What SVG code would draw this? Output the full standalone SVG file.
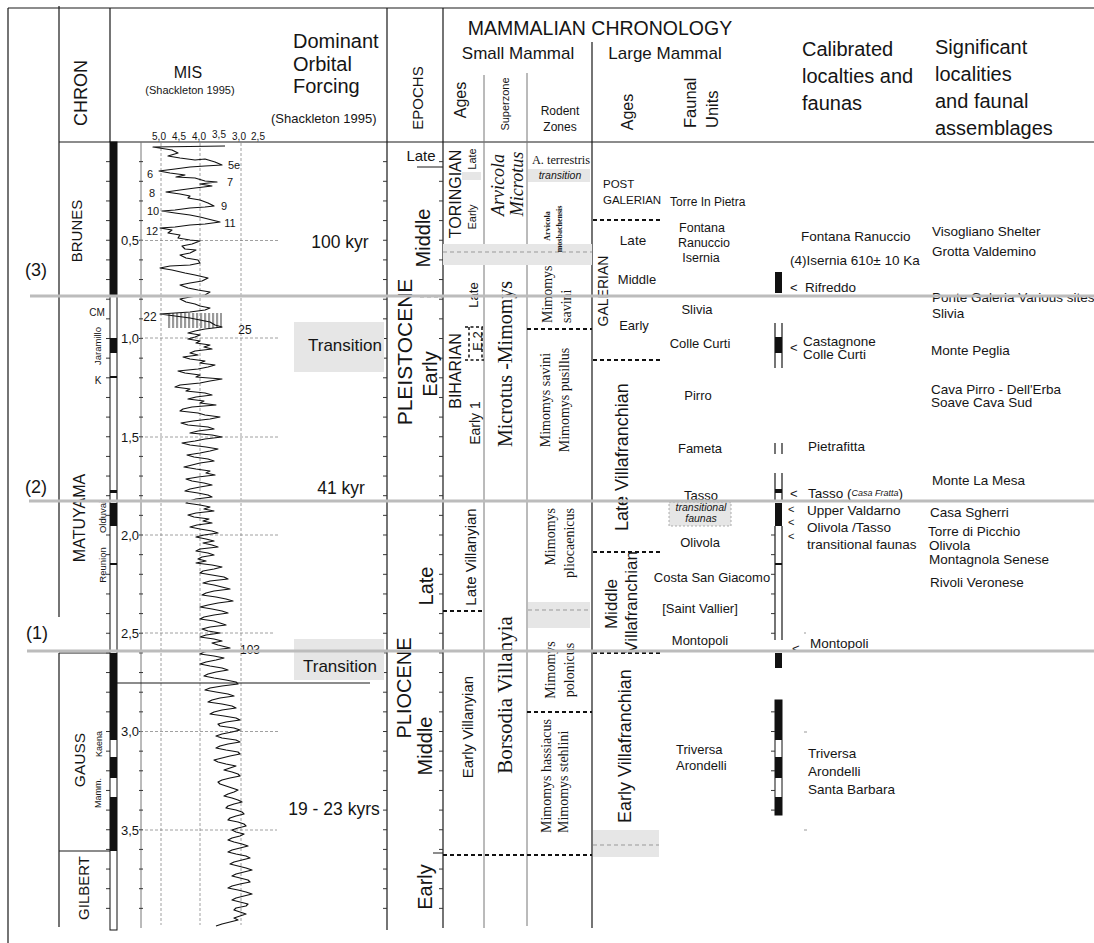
<svg xmlns="http://www.w3.org/2000/svg" width="1094" height="943" viewBox="0 0 1094 943">
<defs>
<style>
.s{font-family:"Liberation Sans",Arial,sans-serif;fill:#151515;dominant-baseline:central}
.r{font-family:"Liberation Serif","Times New Roman",serif;fill:#151515;dominant-baseline:central}
.m{text-anchor:middle}
.e{text-anchor:end}
.i{font-style:italic}
.k{stroke:#1a1a1a;stroke-width:1.2;fill:none}
.gy{stroke:#777;stroke-width:1;fill:none}
.gl{stroke:#bcbcbc;stroke-width:3;fill:none}
.dk{stroke:#111;stroke-width:1.8;stroke-dasharray:4 3;fill:none}
.dg{stroke:#999;stroke-width:1;stroke-dasharray:4 3;fill:none}
.gr{stroke:#888;stroke-width:0.8;stroke-dasharray:3 2;fill:none}
.band{fill:#e6e6e6}
.blk{fill:#111}
</style>
<pattern id="tick" patternUnits="userSpaceOnUse" x="0" y="141.5" width="1" height="19.65"><rect width="1" height="1" fill="#333"/></pattern>
<pattern id="hatch" patternUnits="userSpaceOnUse" x="0" y="0" width="4" height="1"><rect width="2.2" height="1" fill="#9a9a9a"/></pattern>
</defs>
<rect width="1094" height="943" fill="#fff"/>

<g id="frame">
<path class="k" d="M8,8 H1094 M59,142 H1094 M8,8 V943 M59,6 V617 M59,653 V927 M110,8 V142 M387,8 V930 M443,8 V928 M592,42 V928"/>
<path class="gy" d="M484,75 V928 M527,73 V926 M141,142 V928"/>
<path class="k" d="M59,653 H112 M59,851 H117" stroke-width="1.6"/>
<rect x="106" y="150" width="4" height="775" fill="url(#tick)"/>
<rect x="139" y="150" width="4" height="775" fill="url(#tick)"/>
<rect x="383" y="150" width="4" height="775" fill="url(#tick)"/>
<rect x="439" y="150" width="4" height="775" fill="url(#tick)"/>
</g>

<g id="header">
<text class="s m" font-size="18" transform="translate(81,93) rotate(-90)">CHRON</text>
<text class="s m" font-size="16" x="188" y="72">MIS</text>
<text class="s m" font-size="11" x="190" y="90">(Shackleton 1995)</text>
<text class="s" font-size="20" x="293" y="41">Dominant</text>
<text class="s" font-size="20" x="293" y="64">Orbital</text>
<text class="s" font-size="20" x="293" y="86">Forcing</text>
<text class="s" font-size="13" x="271" y="118">(Shackleton 1995)</text>
<g class="s m" font-size="10">
<text x="159" y="136">5,0</text><text x="179" y="136">4,5</text><text x="199" y="136">4,0</text><text x="219" y="134">3,5</text><text x="239" y="136">3,0</text><text x="258" y="136">2,5</text>
</g>
<text class="s m" font-size="15" transform="translate(417,98) rotate(-90)">EPOCHS</text>
<text class="s m" font-size="19.5" x="600" y="28">MAMMALIAN CHRONOLOGY</text>
<text class="s m" font-size="17" x="518" y="53">Small Mammal</text>
<text class="s m" font-size="17" x="665" y="53">Large Mammal</text>
<text class="s m" font-size="16" transform="translate(460,100) rotate(-90)">Ages</text>
<text class="s m" font-size="11" transform="translate(505,104) rotate(-90)">Superzone</text>
<text class="s m" font-size="12" x="560" y="111">Rodent</text>
<text class="s m" font-size="12" x="560" y="127">Zones</text>
<text class="s m" font-size="16" transform="translate(627,112) rotate(-90)">Ages</text>
<text class="s" font-size="16.5" transform="translate(690,128) rotate(-90)">Faunal</text>
<text class="s" font-size="16.5" transform="translate(712,128) rotate(-90)">Units</text>
<text class="s" font-size="20" x="802" y="49">Calibrated</text>
<text class="s" font-size="20" x="802" y="76">localties and</text>
<text class="s" font-size="20" x="802" y="103">faunas</text>
<text class="s" font-size="20" x="935" y="47">Significant</text>
<text class="s" font-size="20" x="935" y="74">localities</text>
<text class="s" font-size="20" x="935" y="101">and faunal</text>
<text class="s" font-size="20" x="935" y="128">assemblages</text>
</g>

<g id="chron">
<rect x="110" y="142" width="7" height="788" fill="#fff" stroke="#111" stroke-width="1"/>
<rect class="blk" x="110" y="142" width="7" height="154"/>
<rect class="blk" x="110" y="338" width="7" height="15"/>
<rect class="blk" x="110" y="376" width="7" height="2"/>
<rect class="blk" x="110" y="490" width="7" height="3"/>
<rect class="blk" x="110" y="503" width="7" height="23"/>
<rect class="blk" x="110" y="563" width="7" height="2"/>
<rect class="blk" x="110" y="653" width="7" height="87"/>
<rect class="blk" x="110" y="757" width="7" height="21"/>
<rect class="blk" x="110" y="797" width="7" height="54"/>
<text class="s m" font-size="15" transform="translate(76,231) rotate(-90)">BRUNES</text>
<text class="s m" font-size="16" transform="translate(79,518) rotate(-90)">MATUYAMA</text>
<text class="s m" font-size="15.5" transform="translate(79,760) rotate(-90)">GAUSS</text>
<text class="s m" font-size="15" transform="translate(83,888) rotate(-90)">GILBERT</text>
<text class="s m" font-size="9" transform="translate(98,793) rotate(-90)">Mamm.</text>
<text class="s m" font-size="9" transform="translate(99,744) rotate(-90)">Kaena</text>
<text class="s m" font-size="9.5" transform="translate(102,517) rotate(-90)">Olduvai</text>
<text class="s m" font-size="9.5" transform="translate(102,565) rotate(-90)">Reunion</text>
<text class="s m" font-size="9.5" transform="translate(97,346) rotate(-90)">Jaramillo</text>
<text class="s m" font-size="10" x="97" y="312">CM</text>
<text class="s m" font-size="10" x="98" y="380">K</text>
<text class="s m" font-size="18" x="36" y="270">(3)</text>
<text class="s m" font-size="18" x="36" y="487">(2)</text>
<text class="s m" font-size="18" x="37" y="633">(1)</text>
</g>

<g id="mis">
<path class="gr" d="M161,143 V925 M200,143 V925 M241,143 V925"/>
<path class="gr" d="M140,240.5 H278 M140,338 H278 M140,437 H278 M140,535 H278 M140,633 H275 M140,731.5 H280 M140,830 H277"/>
<g class="s e" font-size="13">
<text x="139" y="240">0,5</text><text x="139" y="338">1,0</text><text x="139" y="437">1,5</text><text x="139" y="535">2,0</text><text x="139" y="633">2,5</text><text x="139" y="731">3,0</text><text x="139" y="830">3,5</text>
</g>
<rect x="168" y="313" width="54" height="15" fill="url(#hatch)"/>
<path stroke="#111" stroke-width="1.2" fill="none" stroke-linejoin="round" d="M225,146 L153,147 L172,150 L178,153 L168,156 L180,158 L195,160 L205,159 L215,162 L222,165 L205,166 L190,167 L175,169 L159,171 L170,173 L185,175 L176,177 L195,178 L205,181 L217,182 L200,184 L212,186 L195,188 L180,190 L166,192 L180,194 L190,196 L188,198 L200,200 L208,203 L214,206 L205,207 L190,208 L175,210 L162,211 L175,213 L190,215 L200,217 L212,220 L220,222 L205,224 L190,225 L175,227 L160,228 L172,230 L168,233 L180,235 L178,238 L190,240 L200,241 L192,244 L182,246 L185,249 L196,250 L190,253 L180,255 L186,258 L198,260 L200,263 L190,265 L170,266 L160,268 L172,270 L185,273 L195,275 L208,278 L202,281 L190,283 L180,285 L188,288 L198,290 L210,292 L205,295 L190,297 L180,299 L186,302 L195,304 L200,306 L210,308 L205,310 L190,312 L175,313 L160,314 L175,316 L190,318 L200,320 L210,322 L215,325 L222,327 L205,329 L195,331 L188,333 L200,335 L195,337 L188,339 L200,341 L196,343 L210,345 L204,347 L212,349 L195,351 L190,353 L198,355 L183,357 L190,359 L205,361 L200,363 L215,365 L208,367 L198,369 L178,371 L185,373 L200,375 L196,377 L222,379 L210,381 L200,383 L180,385 L175,387 L190,389 L186,391 L205,393 L212,395 L196,397 L188,399 L204,401 L200,403 L216,405 L192,407 L183,409 L180,411 L198,413 L205,415 L220,417 L210,419 L193,421 L181,423 L188,425 L208,427 L214,429 L198,431 L190,433 L212,435 L222,437 L205,439 L195,441 L182,443 L190,445 L206,447 L218,449 L210,451 L200,453 L187,455 L194,457 L208,459 L214,461 L200,463 L192,465 L184,467 L196,469 L210,471 L206,473 L215,475 L198,477 L186,479 L192,481 L204,483 L212,485 L200,487 L190,489 L185,491 L198,493 L208,495 L212,497 L196,499 L189,501 L186,503 L200,505 L210,507 L204,509 L214,511 L196,513 L188,515 L194,517 L209,519 L203,521 L212,523 L197,525 L190,527 L200,529 L212,531 L218,533 L204,535 L196,537 L206,539 L214,541 L203,543 L212,545 L218,547 L200,549 L196,551 L208,553 L214,555 L202,557 L198,559 L206,561 L196,563 L212,565 L222,567 L214,569 L203,571 L200,573 L212,575 L224,577 L228,579 L210,581 L203,583 L214,585 L222,587 L230,589 L214,591 L206,593 L202,595 L216,597 L226,599 L233,601 L218,603 L208,605 L200,607 L212,609 L222,611 L228,613 L214,615 L204,617 L200,619 L214,621 L220,623 L226,625 L210,627 L202,629 L208,631 L220,633 L206,635 L200,637 L214,639 L222,641 L212,643 L218,645 L226,647 L230,648 L214,650 L204,652 L200,654 L214,656 L224,658 L216,660 L206,662 L200,664 L210,666 L222,668 L228,670 L216,672 L208,674 L204,676 L214,678 L226,680 L236,682 L238,684 L222,686 L210,688 L205,690 L216,692 L228,694 L234,696 L220,698 L212,700 L208,702 L222,704 L232,706 L236,708 L222,710 L214,712 L210,714 L224,716 L236,718 L240,720 L226,722 L218,724 L220,726 L234,728 L240,730 L232,732 L222,734 L216,736 L222,738 L236,740 L240,742 L228,744 L220,746 L216,748 L226,750 L238,752 L240,754 L230,756 L222,758 L214,760 L218,762 L226,764 L236,766 L230,768 L224,770 L232,772 L238,774 L240,776 L230,778 L222,780 L218,782 L220,784 L226,786 L232,788 L238,790 L234,792 L228,794 L224,796 L232,798 L238,800 L242,802 L234,804 L228,806 L226,808 L236,810 L242,812 L244,814 L236,816 L230,818 L228,820 L238,822 L244,824 L246,826 L238,828 L232,830 L236,832 L244,834 L240,836 L232,838 L228,840 L234,842 L242,844 L248,846 L240,848 L232,850 L228,852 L236,854 L246,856 L250,858 L242,860 L234,862 L230,864 L238,866 L246,868 L252,870 L244,872 L236,874 L232,876 L240,878 L248,880 L250,882 L240,884 L232,886 L228,888 L238,890 L246,892 L252,894 L244,896 L236,898 L232,900 L240,902 L248,904 L246,906 L236,908 L234,910 L240,912 L246,914 L240,916 L234,918 L238,920 L230,922 L222,924 L216,926"/>
<g class="s" font-size="11">
<text x="228" y="165">5e</text>
<text class="m" x="150" y="174">6</text>
<text class="m" x="230" y="182">7</text>
<text class="m" x="152" y="193">8</text>
<text class="m" x="224" y="206">9</text>
<text class="m" x="153" y="211">10</text>
<text class="m" x="230" y="223">11</text>
<text class="m" x="152" y="231">12</text>
</g>
<g class="s m" font-size="12">
<text x="150" y="317">22</text>
<text x="245" y="330">25</text>
<text x="250" y="650">103</text>
</g>
</g>

<g id="forcing">
<rect class="band" x="294" y="322" width="90" height="50"/>
<rect class="band" x="294" y="639" width="90" height="41"/>
<path class="k" d="M117,683 H370"/>
<text class="s m" font-size="17.5" x="340" y="242">100 kyr</text>
<text class="s m" font-size="17" x="345" y="345">Transition</text>
<text class="s m" font-size="17.5" x="341" y="488">41 kyr</text>
<text class="s m" font-size="17" x="340" y="666">Transition</text>
<text class="s m" font-size="17.5" x="334" y="809">19 - 23 kyrs</text>
</g>

<g id="epochs">
<path class="k" d="M417,167 H443 M387,501 H443"/>
<path class="k" stroke-width="2.2" d="M433,651 H443 M433,853 H443"/>
<path class="dg" d="M420,297 H443"/>
<text class="s m" font-size="15" x="421" y="155">Late</text>
<text class="s m" font-size="20" transform="translate(423,238) rotate(-90)">Middle</text>
<text class="s m" font-size="21" transform="translate(404,352) rotate(-90)">PLEISTOCENE</text>
<text class="s m" font-size="20" transform="translate(430,374) rotate(-90)">Early</text>
<text class="s m" font-size="20" transform="translate(426,586) rotate(-90)">Late</text>
<text class="s m" font-size="20" transform="translate(404,688) rotate(-90)">PLIOCENE</text>
<text class="s m" font-size="20" transform="translate(425,746) rotate(-90)">Middle</text>
<text class="s m" font-size="20" transform="translate(425,887) rotate(-90)">Early</text>
</g>

<g id="small-mammal">
<rect class="band" x="462" y="172" width="19" height="8"/>
<rect class="band" x="443" y="244" width="149" height="21"/>
<path class="dg" d="M443,252 H592"/>
<rect class="band" x="528" y="169" width="62" height="13"/>
<rect class="band" x="528" y="602" width="62" height="26"/>
<path class="dg" d="M528,610 H590"/>
<path stroke="#111" stroke-width="1.5" stroke-dasharray="3 2.5" fill="none" d="M469,327 V360 M482,327 V360 M465,327 H483 M465,360 H484"/>
<path class="dk" d="M443,501 H592 M443,611 H484 M443,855 H592 M527,329 H592 M527,712 H592"/>
<text class="s m" font-size="16" transform="translate(455,194) rotate(-90)">TORINGIAN</text>
<text class="s m" font-size="11" transform="translate(472,159) rotate(-90)">Late</text>
<text class="s m" font-size="11" transform="translate(472,217) rotate(-90)">Early</text>
<text class="s m" font-size="13" transform="translate(473,295) rotate(-90)">Late</text>
<text class="s m" font-size="13" transform="translate(477,341) rotate(-90)">E.2</text>
<text class="s m" font-size="16" transform="translate(455,371) rotate(-90)">BIHARIAN</text>
<text class="s m" font-size="14" transform="translate(475,423) rotate(-90)">Early 1</text>
<text class="s m" font-size="15" transform="translate(470,557) rotate(-90)">Late Villanyian</text>
<text class="s m" font-size="15" transform="translate(467,727) rotate(-90)">Early Villanyian</text>
<text class="r m i" font-size="18" transform="translate(498,185) rotate(-90)">Arvicola</text>
<text class="r m i" font-size="18" transform="translate(517,184) rotate(-90)">Microtus</text>
<text class="r m" font-size="20" transform="translate(505,364) rotate(-90)">Microtus -Mimomys</text>
<text class="r m" font-size="21" transform="translate(505,695) rotate(-90)">Borsodia Villanyia</text>
<text class="r m" font-size="12.3" x="561" y="160">A. terrestris</text>
<text class="s m i" font-size="10.5" x="560" y="175" fill="#444">transition</text>
<text class="r m" font-size="8" font-weight="bold" transform="translate(547,226) rotate(-90)">Arvicola</text>
<text class="r m" font-size="8" font-weight="bold" transform="translate(559,229) rotate(-90)">mosbachensis</text>
<text class="r" font-size="14" transform="translate(547,323) rotate(-90)">Mimomys</text>
<text class="r" font-size="14" transform="translate(566,323) rotate(-90)">savini</text>
<text class="r m" font-size="14" transform="translate(545,400) rotate(-90)">Mimomys savini</text>
<text class="r m" font-size="14" transform="translate(564,400) rotate(-90)">Mimomys pusillus</text>
<text class="r e" font-size="14" transform="translate(550,508) rotate(-90)">Mimomys</text>
<text class="r e" font-size="14" transform="translate(569,508) rotate(-90)">pliocaenicus</text>
<text class="r m" font-size="14" transform="translate(550,670) rotate(-90)">Mimomys</text>
<text class="r m" font-size="14" transform="translate(569,670) rotate(-90)">polonicus</text>
<text class="r" font-size="14" transform="translate(546,833) rotate(-90)">Mimomys hassiacus</text>
<text class="r" font-size="14" transform="translate(563,833) rotate(-90)">Mimomys stehlini</text>
</g>

<g id="large-mammal">
<rect x="669" y="502" width="62" height="24" fill="#e6e6e6" stroke="#999" stroke-width="0.8" stroke-dasharray="2 2"/>
<rect class="band" x="593" y="830" width="66" height="27"/>
<path class="dg" d="M593,845 H659"/>
<path class="dk" d="M593,220 H663 M593,360 H662 M593,552 H660 M593,653 H662"/>
<text class="s" font-size="11.5" x="603" y="184">POST</text>
<text class="s" font-size="11.5" x="603" y="200">GALERIAN</text>
<text class="s" font-size="12" x="670" y="202">Torre In Pietra</text>
<text class="s m" font-size="13.5" x="633" y="240">Late</text>
<text class="s m" font-size="12.5" x="702" y="228">Fontana</text>
<text class="s m" font-size="12.5" x="704" y="243">Ranuccio</text>
<text class="s m" font-size="12.5" x="701" y="258">Isernia</text>
<text class="s m" font-size="13" x="637" y="279">Middle</text>
<text class="s m" font-size="14" transform="translate(603,291) rotate(-90)">GALERIAN</text>
<text class="s m" font-size="13" x="634" y="325">Early</text>
<text class="s m" font-size="13" x="697" y="309">Slivia</text>
<text class="s m" font-size="13" x="700" y="343">Colle Curti</text>
<text class="s" font-size="18" transform="translate(622,531) rotate(-90)">Late Villafranchian</text>
<text class="s m" font-size="13" x="698" y="395">Pirro</text>
<text class="s m" font-size="13" x="700" y="448">Fameta</text>
<text class="s m" font-size="13" x="701" y="495">Tasso</text>
<text class="s m i" font-size="10.5" x="701" y="507" fill="#555">transitional</text>
<text class="s m i" font-size="10.5" x="701" y="518" fill="#555">faunas</text>
<text class="s m" font-size="13" x="700" y="542">Olivola</text>
<text class="s m" font-size="17" transform="translate(611,604) rotate(-90)">Middle</text>
<text class="s m" font-size="17" transform="translate(631,602) rotate(-90)">Villafranchian</text>
<text class="s m" font-size="13" x="712" y="577">Costa San Giacomo</text>
<text class="s m" font-size="13" x="700" y="608">[Saint Vallier]</text>
<text class="s m" font-size="13" x="700" y="640">Montopoli</text>
<text class="s" font-size="18" transform="translate(625,823) rotate(-90)">Early Villafranchian</text>
<text class="s" font-size="13" x="676" y="749">Triversa</text>
<text class="s" font-size="13" x="676" y="765">Arondelli</text>
</g>

<g id="calibrated">
<rect class="blk" x="775" y="272" width="7" height="21"/>
<path class="k" d="M775,323 V368 M782,323 V368 M775,443 V454 M782,443 V454 M775,473 V501 M782,473 V501 M775,526 V640 M782,526 V640"/>
<rect class="blk" x="775" y="337" width="7" height="16"/>
<rect class="blk" x="775" y="489" width="7" height="4"/>
<rect class="blk" x="775" y="503" width="7" height="23"/>
<rect class="blk" x="775" y="563" width="7" height="2"/>
<rect class="blk" x="775" y="653" width="7" height="15"/>
<rect x="775" y="700" width="7" height="115" fill="#fff" stroke="#111" stroke-width="1"/>
<rect class="blk" x="775" y="700" width="7" height="40"/>
<rect class="blk" x="775" y="757" width="7" height="21"/>
<rect class="blk" x="775" y="797" width="7" height="18"/>
<rect x="771" y="528" width="4" height="110" fill="url(#tick)"/>
<rect x="771" y="702" width="4" height="112" fill="url(#tick)"/>
<path stroke="#999" stroke-width="1" d="M804,633 h2 M804,732 h3 M804,830 h3"/>
<g class="s" font-size="13">
<text x="790" y="287">&lt;</text>
<text x="790" y="347">&lt;</text>
<text x="790" y="493">&lt;</text>
<text x="792" y="648">&lt;</text>
</g>
<g class="s" font-size="11">
<text x="788" y="509">&lt;</text>
<text x="788" y="522">&lt;</text>
<text x="788" y="536">&lt;</text>
</g>
<g class="s" font-size="13.5">
<text x="801" y="236">Fontana Ranuccio</text>
<text x="790" y="260">(4)Isernia 610± 10 Ka</text>
<text x="805" y="287">Rifreddo</text>
<text x="803" y="341">Castagnone</text>
<text x="803" y="354">Colle Curti</text>
<text x="808" y="446">Pietrafitta</text>
<text x="808" y="493">Tasso (<tspan font-style="italic" font-size="9">Casa Fratta</tspan>)</text>
<text x="807" y="510">Upper Valdarno</text>
<text x="807" y="527">Olivola /Tasso</text>
<text x="807" y="544">transitional faunas</text>
<text x="810" y="643">Montopoli</text>
<text x="808" y="753">Triversa</text>
<text x="808" y="771">Arondelli</text>
<text x="808" y="789">Santa Barbara</text>
</g>
</g>

<g id="significant" class="s" font-size="13.5">
<text x="932" y="231">Visogliano Shelter</text>
<text x="932" y="251">Grotta Valdemino</text>
<text x="932" y="297">Ponte Galeria Various sites</text>
<text x="932" y="313">Slivia</text>
<text x="931" y="350">Monte Peglia</text>
<text x="931" y="389">Cava Pirro - Dell'Erba</text>
<text x="931" y="402">Soave Cava Sud</text>
<text x="932" y="480">Monte La Mesa</text>
<text x="930" y="512">Casa Sgherri</text>
<text x="928" y="531">Torre di Picchio</text>
<text x="929" y="545">Olivola</text>
<text x="929" y="559">Montagnola Senese</text>
<text x="930" y="582">Rivoli Veronese</text>
</g>

<g id="connectors">
<path class="gl" d="M30,296 H1094 M29,501 H1094 M27,651 H1094"/>
</g>
</svg>
